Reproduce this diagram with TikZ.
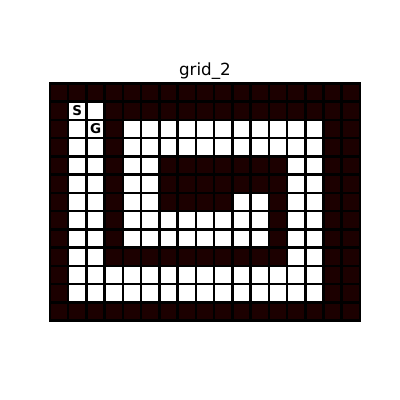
\documentclass[tikz,border=0pt]{standalone}
\usepackage{fontspec}
\setmainfont{DejaVu Sans}
\definecolor{wall}{RGB}{28,0,0}

\begin{document}
\begin{tikzpicture}[x=0.4559cm,y=-0.4559cm]
\useasboundingbox (-2.742,-4.578) rectangle (19.194,17.359);
% walls
\fill[wall] (0,0) rectangle (17,13);
% free cells
\fill[white] (1,1) rectangle (3,12);
\fill[white] (4,2) rectangle (15,4);
\fill[white] (4,2) rectangle (6,9);
\fill[white] (13,2) rectangle (15,12);
\fill[white] (10,6) rectangle (12,9);
\fill[white] (4,7) rectangle (12,9);
\fill[white] (1,10) rectangle (15,12);
% cell borders
\foreach \xx in {0,...,17}
  {\draw[line width=1.8pt,line cap=rect] (\xx,0) -- (\xx,13);}
\foreach \yy in {0,...,13}
  {\draw[line width=1.8pt,line cap=rect] (0,\yy) -- (17,\yy);}
% start and goal
\node[font=\fontsize{9.6}{11}\selectfont\bfseries] (start) at (1.5,1.5) {S};
\node[font=\fontsize{9.6}{11}\selectfont\bfseries] (goal) at (2.5,2.5) {G};
\node[anchor=base,font=\fontsize{11.9}{14}\selectfont] (title) at (8.5,-0.4645) {grid\_2};
\end{tikzpicture}
\end{document}
